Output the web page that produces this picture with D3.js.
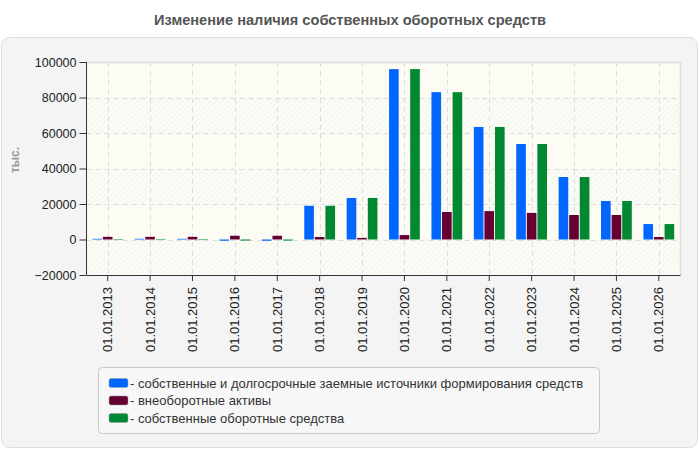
<!DOCTYPE html>
<html>
<head>
<meta charset="utf-8">
<script src="https://cdn.jsdelivr.net/npm/d3@7"></script>
<style>
  body { margin: 0; background: #fff; }
  svg { display: block; font-family: "Liberation Sans", Arial, sans-serif; }
</style>
</head>
<body>
<svg id="chart" width="700" height="450"></svg>
<script>
const years = ['01.01.2013', '01.01.2014', '01.01.2015', '01.01.2016', '01.01.2017', '01.01.2018', '01.01.2019',
  '01.01.2020', '01.01.2021', '01.01.2022', '01.01.2023', '01.01.2024', '01.01.2025', '01.01.2026']
const sources = [400, 400, 400, -700, -700, 19000, 23400, 96000, 83000, 63400, 53800, 35200, 21700, 8700]
const fixedAssets = [1500, 1500, 1500, 2100, 2100, 1400, 900, 2500, 15500, 16000, 15000, 13800, 13800, 1400]
const workingCapital = [300, 300, 300, -600, -600, 19000, 23400, 96000, 83000, 63400, 53800, 35200, 21700, 8700]
const seriesNames = ['собственные и долгосрочные заемные источники формирования средств', 'внеоборотные активы', 'собственные оборотные средства']
const colors = ['#0066ff', '#660033', '#008833']
const yTicks = [-20000, 0, 20000, 40000, 60000, 80000, 100000]

const series = [sources, fixedAssets, workingCapital]
const svg = d3.select('#chart')

// panel
svg.append('rect')
  .attr('x', 1.5).attr('y', 37.5).attr('width', 696).attr('height', 410)
  .attr('rx', 8)
  .attr('fill', '#f4f4f4').attr('stroke', '#dedede')

svg.append('text')
  .attr('x', 350).attr('y', 25)
  .attr('text-anchor', 'middle')
  .attr('font-size', 14.6).attr('font-weight', 'bold')
  .attr('fill', '#555')
  .text('Изменение наличия собственных оборотных средств')

const pLeft = 86.5, pRight = 680, pTop = 62, pBottom = 275

const x = d3.scaleBand().domain(years).range([pLeft, pRight]).padding(0)
const inner = d3.scaleBand().domain([0, 1, 2]).range([0, x.bandwidth()]).paddingInner(0.09).paddingOuter(0.55)
const y = d3.scaleLinear().domain([-20000, 100000]).range([pBottom, pTop])

// plot background with hatching
const defs = svg.append('defs')
const pat = defs.append('pattern')
  .attr('id', 'hatch').attr('width', 4).attr('height', 4)
  .attr('patternUnits', 'userSpaceOnUse')
  .attr('patternTransform', 'rotate(45)')
pat.append('rect').attr('width', 4).attr('height', 4).attr('fill', '#fcfcf7')
pat.append('line').attr('x1', 0).attr('y1', 0).attr('x2', 0).attr('y2', 4)
  .attr('stroke', '#f0f0ec').attr('stroke-width', 1.5)

svg.append('rect')
  .attr('x', pLeft).attr('y', pTop).attr('width', pRight - pLeft).attr('height', pBottom - pTop)
  .attr('fill', 'url(#hatch)')

// alternating plain bands
const bands = d3.pairs(yTicks).filter((p, i) => i === 1 || i === 3 || i === 5)
svg.append('g').selectAll('rect').data(bands).enter().append('rect')
  .attr('x', pLeft).attr('width', pRight - pLeft)
  .attr('y', d => y(d[1])).attr('height', d => y(d[0]) - y(d[1]))
  .attr('fill', '#fcfcf3').attr('opacity', 0.75)

// frame
svg.append('path')
  .attr('d', `M${pLeft},${pTop + 0.5}H${pRight + 0.5}V${pBottom}`)
  .attr('fill', 'none').attr('stroke', '#dcdcdc').attr('stroke-width', 1.5)

// grid
const grid = svg.append('g').attr('stroke', '#dcdcdc').attr('stroke-dasharray', '5,4')
grid.selectAll('.h').data(yTicks.slice(1, -1)).enter().append('line')
  .attr('x1', pLeft).attr('x2', pRight)
  .attr('y1', d => Math.round(y(d)) + 0.5).attr('y2', d => Math.round(y(d)) + 0.5)
grid.selectAll('.v').data(years).enter().append('line')
  .attr('x1', d => Math.round(x(d) + x.bandwidth() / 2) + 0.5)
  .attr('x2', d => Math.round(x(d) + x.bandwidth() / 2) + 0.5)
  .attr('y1', pTop).attr('y2', pBottom)

// bars
series.forEach((vals, s) => {
  svg.append('g').selectAll('rect').data(vals).enter().append('rect')
    .attr('x', (d, i) => x(years[i]) + inner(s))
    .attr('width', inner.bandwidth())
    .attr('y', d => y(Math.max(0, d)))
    .attr('height', d => Math.abs(y(d) - y(0)))
    .attr('fill', colors[s])
})

// axes
const yAxis = d3.axisLeft(y).tickValues(yTicks).tickSize(7).tickPadding(3).tickFormat(d3.format('d'))
svg.append('g').attr('transform', `translate(${pLeft},0)`).call(yAxis)
  .call(g => g.selectAll('text').attr('font-size', 12.5).attr('fill', '#222').attr('font-family', '"Liberation Sans", Arial, sans-serif'))
  .call(g => g.selectAll('line, path').attr('stroke', '#333'))
  .call(g => g.select('.domain').attr('d', `M0,${pTop}V${pBottom}`))

const xAxis = d3.axisBottom(x).tickSize(6).tickSizeOuter(0)
svg.append('g').attr('transform', `translate(0,${pBottom})`).call(xAxis)
  .call(g => g.selectAll('line, path').attr('stroke', '#333'))
  .call(g => g.selectAll('text')
    .attr('font-size', 13).attr('fill', '#222').attr('font-family', '"Liberation Sans", Arial, sans-serif')
    .attr('transform', 'rotate(-90)')
    .attr('text-anchor', 'end')
    .attr('x', -12).attr('y', 0).attr('dy', '0.35em'))

svg.append('text')
  .attr('transform', 'translate(19,160) rotate(-90)')
  .attr('text-anchor', 'middle')
  .attr('font-size', 12).attr('font-weight', 'bold').attr('fill', '#999')
  .text('тыс.')

// legend
const legend = svg.append('g')
legend.append('rect')
  .attr('x', 98.5).attr('y', 367.5).attr('width', 501).attr('height', 66)
  .attr('rx', 4).attr('fill', '#f7f7f7').attr('stroke', '#c8c8c8')
const items = legend.selectAll('.item').data(seriesNames).enter().append('g')
  .attr('transform', (d, i) => `translate(109,${383 + i * 17.5})`)
items.append('rect')
  .attr('x', 0).attr('y', -4.5).attr('width', 19).attr('height', 9).attr('rx', 2)
  .attr('fill', (d, i) => colors[i]).attr('stroke', '#999').attr('stroke-width', 0.5)
items.append('text')
  .attr('x', 21).attr('y', 0).attr('dy', '0.35em')
  .attr('font-size', 13).attr('fill', '#333')
  .text(d => '- ' + d)
</script>
</body>
</html>
